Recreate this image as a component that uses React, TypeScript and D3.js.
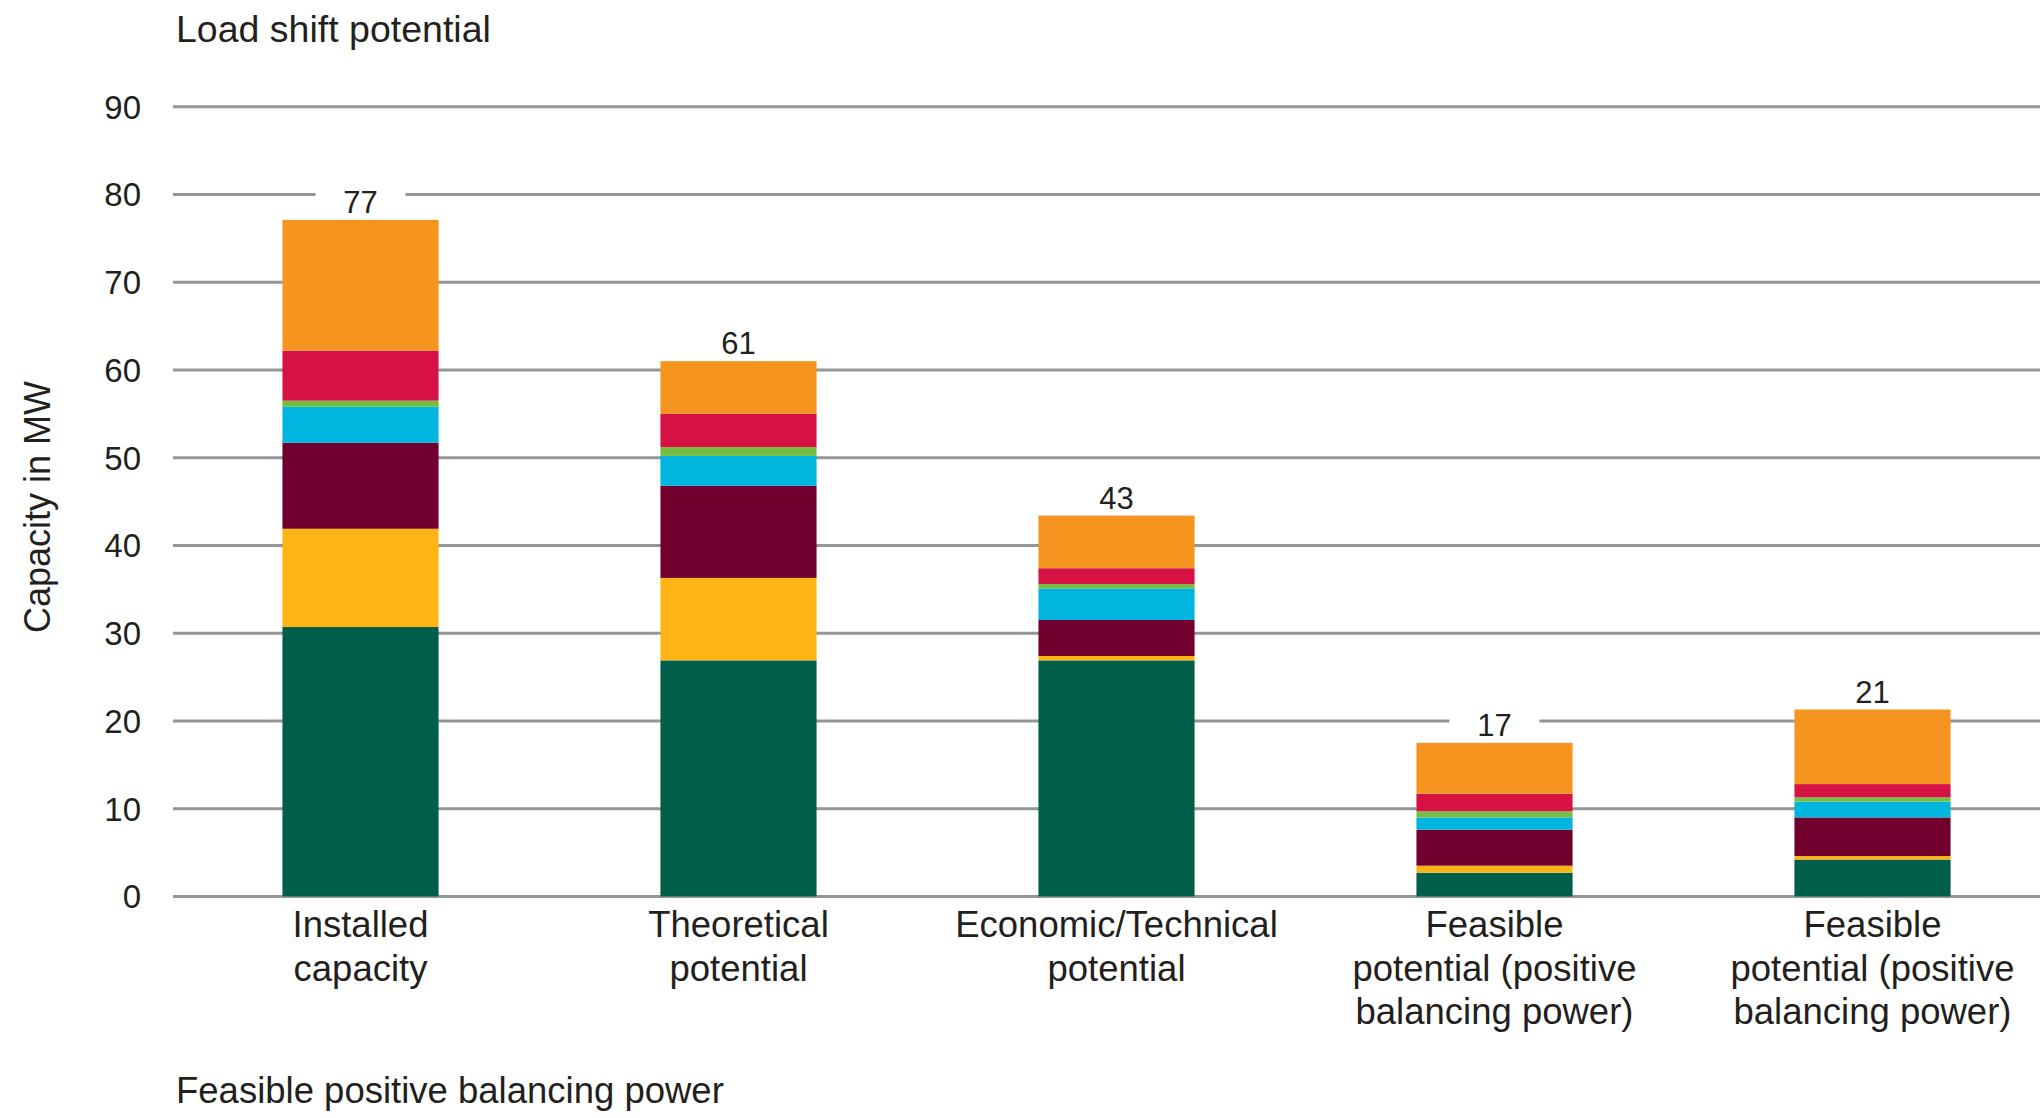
import React from "react";
import * as d3 from "d3";

const categories = ["Installed capacity", "Theoretical potential", "Economic/Technical potential", "Feasible potential A", "Feasible potential B"];
const categoryLines = [
  ["Installed", "capacity"],
  ["Theoretical", "potential"],
  ["Economic/Technical", "potential"],
  ["Feasible", "potential (positive", "balancing power)"],
  ["Feasible", "potential (positive", "balancing power)"],
];
const seriesKeys = ["s1", "s2", "s3", "s4", "s5", "s6", "s7"];
const seriesColors = ["#005E4A", "#FDB515", "#72002E", "#00B5DE", "#76BE43", "#D61245", "#F5951F"];
const s1 = [30.7, 26.9, 26.9, 2.7, 4.2];
const s2 = [11.2, 9.4, 0.5, 0.8, 0.4];
const s3 = [9.8, 10.5, 4.1, 4.1, 4.4];
const s4 = [4.1, 3.4, 3.6, 1.4, 1.8];
const s5 = [0.7, 1.0, 0.5, 0.7, 0.5];
const s6 = [5.7, 3.8, 1.8, 2.0, 1.5];
const s7 = [14.9, 6.0, 6.0, 5.8, 8.5];
const totalLabels = ["77", "61", "43", "17", "21"];
const yTicks = [0, 10, 20, 30, 40, 50, 60, 70, 80, 90];
const title = "Load shift potential";
const yTitle = "Capacity in MW";
const bottomTitle = "Feasible positive balancing power";

const W = 2040;
const H = 1118;
const FONT = "'Liberation Sans', Arial, sans-serif";
const TXT = "#231F20";

export default function App() {
  const rows = categories.map((c, i) => ({
    cat: c,
    s1: s1[i], s2: s2[i], s3: s3[i], s4: s4[i], s5: s5[i], s6: s6[i], s7: s7[i],
  }));
  const stacked = d3.stack<any>().keys(seriesKeys)(rows);
  const x = d3.scaleBand().domain(categories).range([171.5, 2061.5]).paddingInner(0.587).paddingOuter(0.2935);
  const y = d3.scaleLinear().domain([0, 90]).range([896.4, 106.7]);
  const bw = x.bandwidth();

  return (
    <svg width={W} height={H} style={{ position: "absolute", left: 0, top: 0, display: "block", background: "#fff" }} fontFamily={FONT}>
      <rect x={0} y={0} width={W} height={H} fill="#fff" />
      <text x={176} y={42} fontSize={37.5} fill={TXT}>{title}</text>
      {yTicks.map((t) => (
        <g key={t}>
          <line x1={173} x2={W} y1={y(t)} y2={y(t)} stroke="#939598" strokeWidth={3} />
          <text x={141} y={y(t)} dy="0.36em" textAnchor="end" fontSize={33} fill={TXT}>{t}</text>
        </g>
      ))}
      <text transform={`translate(50,507) rotate(-90)`} textAnchor="middle" fontSize={36} fill={TXT}>{yTitle}</text>
      {stacked.map((layer, li) => (
        <g key={layer.key} fill={seriesColors[li]}>
          {layer.map((d: any, i: number) => (
            <rect key={i} x={x(categories[i])} width={bw} y={y(d[1])} height={y(d[0]) - y(d[1])} />
          ))}
        </g>
      ))}
      {categories.map((c, i) => {
        const top = y(stacked[stacked.length - 1][i][1]);
        const cx = (x(c) as number) + bw / 2;
        return (
          <g key={c}>
            <rect x={cx - 45} y={top - 38} width={90} height={36} fill="#fff" />
            <text x={cx} y={top - 7} textAnchor="middle" fontSize={31} fill={TXT}>{totalLabels[i]}</text>
            {categoryLines[i].map((ln, j) => (
              <text key={j} x={cx} y={937 + j * 43.5} textAnchor="middle" fontSize={36.5} fill={TXT}>{ln}</text>
            ))}
          </g>
        );
      })}
      <text x={176} y={1103} fontSize={36.5} fill={TXT}>{bottomTitle}</text>
    </svg>
  );
}
